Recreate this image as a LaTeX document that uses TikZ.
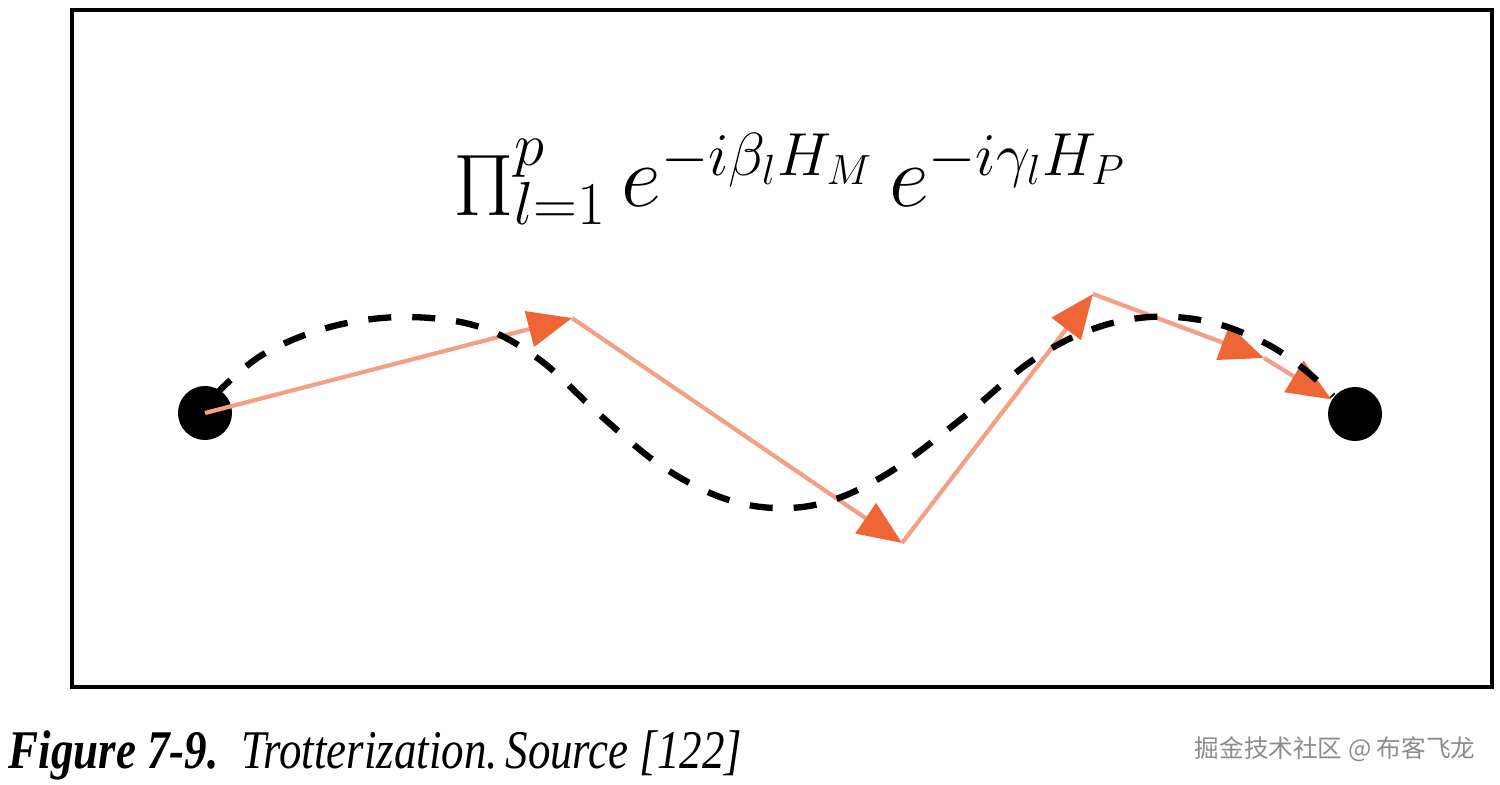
\documentclass[tikz,border=0pt]{standalone}
\usepackage{graphicx}
\usepackage{fontspec}
\usetikzlibrary{arrows.meta}
\newfontfamily\cjkfont{Noto Sans CJK SC}
\newfontfamily\capfont{Liberation Serif}
\definecolor{shaft}{HTML}{F3A186}
\definecolor{tipcol}{HTML}{EE6636}
\definecolor{markgray}{HTML}{8C8C8C}
\tikzset{
  blackdot/.style={circle,fill=black,draw=none,minimum size=0.54cm,inner sep=0pt},
  trot/.style={draw=shaft,line width=1.2pt,-{Triangle[length=0.44cm,width=0.36cm,color=tipcol]}},
  pathdash/.style={draw=black,line width=1.8pt,dash pattern=on 0.23cm off 0.21cm},
  boxframe/.style={draw=black,line width=1.1pt}
}
\begin{document}
\begin{tikzpicture}[x=0.01cm,y=-0.01cm]
\useasboundingbox (0,0) rectangle (1500,785);
\draw[boxframe] (72,10) rectangle (1492,687);
\node[anchor=base west,inner sep=0pt,font=\fontsize{23}{27}\selectfont] (formula) at (453,207) {$\mathop{\Pi}\nolimits_{l=1}^{p} e^{-i\beta_l H_M}\, e^{-i\gamma_l H_P}$};
\node[blackdot] (start) at (205,413) {};
\node[blackdot] (end) at (1355,414) {};
\coordinate (p1) at (572,318);
\coordinate (p2) at (902,543);
\coordinate (p3) at (1093,294);
\coordinate (p4) at (1264,358);
\draw[trot] (start.center) -- (p1);
\draw[trot] (p1) -- (p2);
\draw[trot] (p2) -- (p3);
\draw[trot] (p3) -- (p4);
\draw[trot] (p4) -- (end);
\draw[pathdash] plot[smooth,tension=0.6] coordinates {(214,396) (262,355) (330,327) (405,317) (480,327) (540,360) (600,415) (660,465) (720,497) (775,508) (830,501) (890,472) (960,420) (1030,362) (1090,330) (1150,317) (1210,322) (1265,343) (1305,370) (1333,396)};
\node[anchor=base west,inner sep=0pt,font=\capfont\fontsize{15.5}{18}\selectfont] (caption) at (8,768) {\scalebox{0.825}[1]{\textbf{\textit{Figure 7-9.}}\enspace\textit{Trotterization.\,Source [122]}}};
\node[anchor=base east,inner sep=0pt,text=markgray,font=\cjkfont\fontsize{7}{8}\selectfont] (mark) at (1476,757) {掘金技术社区 @ 布客飞龙};
\end{tikzpicture}
\end{document}
